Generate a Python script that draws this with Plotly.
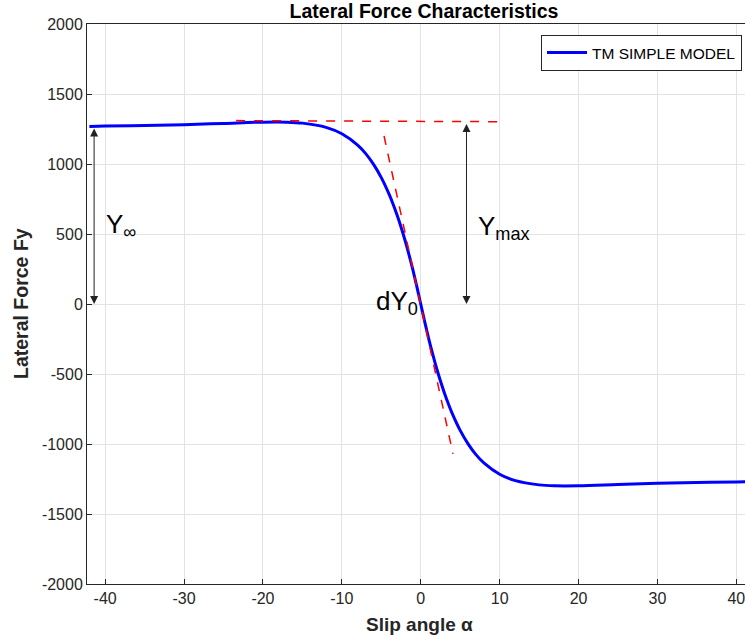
import plotly.graph_objects as go

# Slip angle (deg) and lateral force (N)
alpha = [-42, -40, -35, -30, -25, -20, -17, -15, -12, -10, -8, -7, -6, -5, -4, -3.5, -3, -2.5, -2, -1.5, -1, -0.5,
         0, 0.5, 1, 1.5, 2, 2.5, 3, 3.5, 4, 5, 6, 7, 8, 10, 12, 15, 17, 20, 25, 30, 35, 40, 42]
fy = [1268, 1271, 1275, 1281, 1290, 1299, 1299, 1292, 1262, 1216, 1135, 1076, 999, 903, 783, 713, 635, 550, 457, 355, 245, 126,
      0, -126, -245, -355, -457, -550, -635, -713, -783, -903, -999, -1076, -1135, -1216, -1262, -1292, -1299, -1299, -1290,
      -1281, -1275, -1271, -1268]

# Helper construction lines (red dashed)
ymax_line_x = [-23.4, 10.6]
ymax_line_y = [1310, 1302]
tangent_x = [-4.65, 4.09]
tangent_y = [1200, -1071]

# Double arrows: (x, y_from, y_to)
arrow_yinf = (-41.4, 1264, 0)
arrow_ymax = (5.8, 1296, 0)

x_ticks = [-40, -30, -20, -10, 0, 10, 20, 30, 40]
y_ticks = [-2000, -1500, -1000, -500, 0, 500, 1000, 1500, 2000]

FONT = "Liberation Sans, Arial, sans-serif"
AX = "#262626"

fig = go.Figure()
fig.add_trace(go.Scatter(x=alpha, y=fy, mode="lines", line=dict(color="#0000ff", width=3, shape="spline"),
                         name="TM SIMPLE MODEL"))
fig.add_trace(go.Scatter(x=ymax_line_x, y=ymax_line_y, mode="lines",
                         line=dict(color="#ff0000", width=1.5, dash="dash"), showlegend=False))
fig.add_trace(go.Scatter(x=tangent_x, y=tangent_y, mode="lines",
                         line=dict(color="#ff0000", width=1.5, dash="dash"), showlegend=False))

annotations = []
for (ax_x, y0, y1) in [arrow_yinf, arrow_ymax]:
    annotations.append(dict(x=ax_x, y=y1, ax=ax_x, ay=y0, xref="x", yref="y", axref="x", ayref="y",
                            text="", showarrow=True, arrowhead=2, startarrowhead=2, arrowside="end+start",
                            arrowsize=1.6, startarrowsize=1.6, arrowwidth=1, arrowcolor="#222222",
                            standoff=0, startstandoff=0))

annotations += [
    dict(x=-40.2, y=560, xref="x", yref="y", text="Y<sub>∞</sub>", showarrow=False, xanchor="left",
         yanchor="middle", font=dict(family=FONT, size=26, color="#000000")),
    dict(x=7.0, y=545, xref="x", yref="y", text="Y<sub>max</sub>", showarrow=False, xanchor="left",
         yanchor="middle", font=dict(family=FONT, size=26, color="#000000")),
    dict(x=-5.9, y=10, xref="x", yref="y", text="dY<sub>0</sub>", showarrow=False, xanchor="left",
         yanchor="middle", font=dict(family=FONT, size=26, color="#000000")),
    dict(x=0, y=0, xref="paper", yref="paper", text="<b>Slip angle α</b>", showarrow=False,
         xanchor="center", yanchor="middle", font=dict(family=FONT, size=19, color=AX)),
    dict(x=0, y=0, xref="paper", yref="paper", text="<b>Lateral Force Fy</b>", showarrow=False,
         xanchor="center", yanchor="middle", textangle=-90, font=dict(family=FONT, size=19.5, color=AX)),
]

# axis titles positioned in pixel terms
w, h = 745, 641
ml, mr, mt, mb = 87, 0, 24, 57
pw, ph = w - ml - mr, h - mt - mb
annotations[-2]["x"] = (420 - ml) / pw
annotations[-2]["y"] = -(624 - (h - mb)) / ph
annotations[-1]["x"] = (21 - ml) / pw
annotations[-1]["y"] = ((h - mb) - 304) / ph

fig.update_layout(
    width=w, height=h,
    margin=dict(l=ml, r=mr, t=mt, b=mb),
    paper_bgcolor="white", plot_bgcolor="white",
    font=dict(family=FONT, color=AX, size=16),
    title=dict(text="<b>Lateral Force Characteristics</b>", x=424 / 745, xref="container", xanchor="center",
               y=1 - 11 / 641, yref="container", yanchor="middle", font=dict(family=FONT, size=19.5, color="#000000")),
    showlegend=True,
    legend=dict(x=(742 - ml) / pw, y=(h - mb - 35) / ph, xanchor="right", yanchor="top", bgcolor="white",
                bordercolor="#262626", borderwidth=1, font=dict(family=FONT, size=15.5, color="#000000"),
                itemwidth=40, tracegroupgap=0),
    annotations=annotations,
)
fig.update_xaxes(range=[-42.3, 41.1], tickvals=x_ticks, ticktext=[str(v) for v in x_ticks],
                 showgrid=True, gridcolor="#e3e3e3", gridwidth=1, zeroline=False,
                 showline=True, linecolor=AX, linewidth=1, mirror=True, ticklabeloverflow="allow",
                 ticks="inside", ticklen=5, tickcolor=AX, tickfont=dict(size=16, color=AX))
fig.update_yaxes(range=[-2000, 2000], tickvals=y_ticks, ticktext=[str(v) for v in y_ticks],
                 showgrid=True, gridcolor="#e3e3e3", gridwidth=1, zeroline=False,
                 showline=True, linecolor=AX, linewidth=1, mirror=False, ticklabeloverflow="allow",
                 ticks="inside", ticklen=5, tickcolor=AX, tickfont=dict(size=16, color=AX))

fig.write_html("out.html", config={"displayModeBar": False})

# remove the default page margin so the figure sits at the top-left corner
with open("out.html", "r", encoding="utf-8") as f:
    html = f.read()
html = html.replace("<head>", "<head><style>html,body{margin:0;padding:0;overflow:hidden;}</style>", 1)
with open("out.html", "w", encoding="utf-8") as f:
    f.write(html)
